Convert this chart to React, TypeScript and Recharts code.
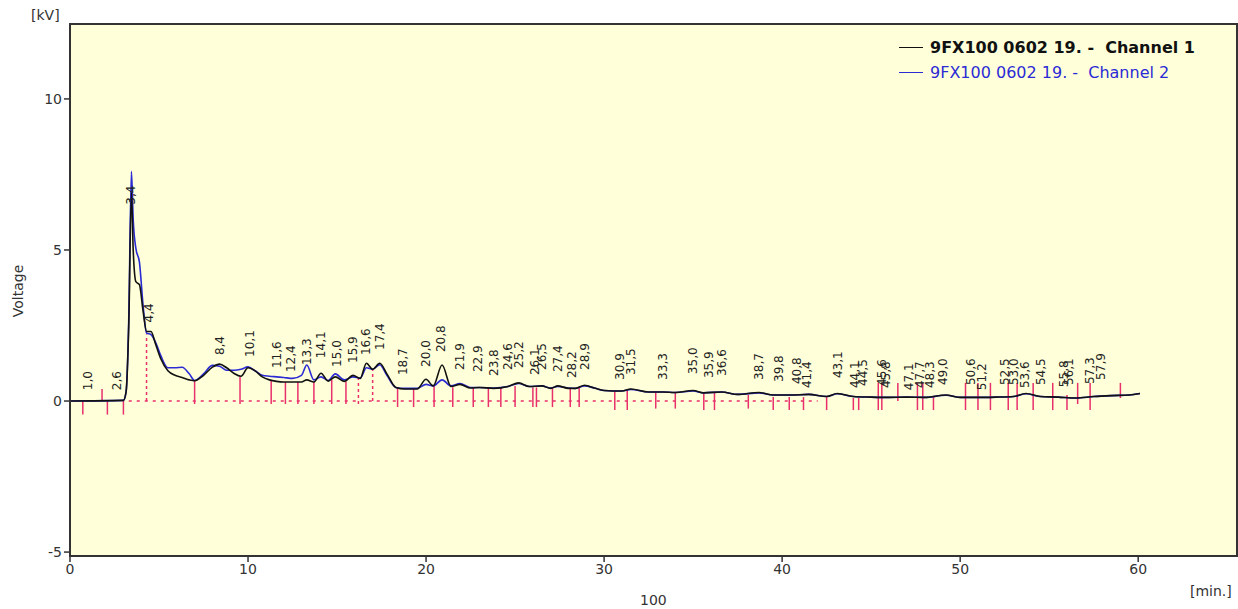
import React from 'react';
import {
  ComposedChart,
  Line,
  Scatter,
  XAxis,
  YAxis,
  CartesianGrid,
  ReferenceLine,
  ReferenceArea,
} from 'recharts';

// retention time [min.]
const times = [
  0, 3.0, 3.15, 3.3, 3.45, 3.55, 3.7, 3.9, 4.1, 4.3, 4.55, 4.8, 5.1, 5.5, 5.9, 6.3, 6.7, 7.0, 7.5, 8.0,
  8.4, 8.8, 9.2, 9.6, 10.0, 10.4, 10.8, 11.2, 11.6, 12.0, 12.5, 13.0, 13.3, 13.7, 14.1, 14.5, 14.9, 15.4,
  15.9, 16.3, 16.65, 17.0, 17.4, 17.8, 18.3, 18.8, 19.5, 20.0, 20.4, 20.9, 21.4, 21.9, 22.5, 23.0, 23.8,
  24.6, 25.2, 25.8, 26.5, 27.0, 27.4, 28.0, 28.4, 28.9, 29.5, 30.0, 31.0, 31.5, 32.5, 33.3, 34.0, 35.0,
  35.6, 36.6, 37.5, 38.7, 39.5, 40.5, 41.5, 42.5, 43.1, 44.0, 45.0, 46.0, 47.0, 48.0, 49.2, 50.0, 51.0,
  52.0, 53.0, 53.7, 54.5, 55.5, 56.5, 57.5, 58.5, 59.5, 60.1,
];

// Channel 1 [kV]
const channel1 = [
  0, 0.02, 0.3, 2.5, 6.9, 5.0, 3.95, 3.85, 3.0, 2.3, 2.3, 1.9, 1.4, 1.0, 0.85, 0.78, 0.7, 0.67, 0.85, 1.12,
  1.22, 1.1, 0.92, 0.82, 1.1, 1.0, 0.8, 0.7, 0.65, 0.63, 0.63, 0.63, 0.7, 0.63, 0.92, 0.66, 0.8, 0.65,
  0.85, 0.75, 1.25, 1.05, 1.25, 0.9, 0.45, 0.4, 0.4, 0.72, 0.5, 1.19, 0.48, 0.55, 0.43, 0.45, 0.42,
  0.48, 0.6, 0.48, 0.5, 0.42, 0.5, 0.42, 0.42, 0.52, 0.42, 0.35, 0.33, 0.4, 0.3, 0.3, 0.28, 0.35,
  0.27, 0.3, 0.22, 0.28, 0.2, 0.2, 0.22, 0.15, 0.25, 0.15, 0.13, 0.12, 0.13, 0.12, 0.2, 0.12, 0.12,
  0.13, 0.15, 0.25, 0.15, 0.13, 0.1, 0.15, 0.18, 0.2, 0.25,
];

// Channel 2 [kV]
const channel2 = [
  0, 0.02, 0.3, 2.7, 7.6, 6.0, 5.05, 4.6, 3.2, 2.25, 2.2, 1.95, 1.5, 1.1, 1.1, 1.12, 0.9, 0.68, 0.9, 1.18,
  1.15, 1.02, 1.02, 1.05, 1.13, 1.0, 0.85, 0.82, 0.8, 0.78, 0.75, 0.85, 1.19, 0.7, 0.8, 0.68, 0.9, 0.7,
  0.8, 0.75, 1.1, 1.05, 1.2, 0.85, 0.45, 0.42, 0.42, 0.55, 0.5, 0.7, 0.5, 0.58, 0.45, 0.45, 0.43,
  0.48, 0.58, 0.48, 0.5, 0.43, 0.48, 0.43, 0.42, 0.5, 0.42, 0.35, 0.33, 0.38, 0.3, 0.3, 0.28, 0.33,
  0.27, 0.3, 0.22, 0.27, 0.2, 0.2, 0.22, 0.15, 0.24, 0.15, 0.13, 0.12, 0.13, 0.12, 0.19, 0.12, 0.12,
  0.13, 0.15, 0.24, 0.15, 0.13, 0.1, 0.15, 0.18, 0.2, 0.25,
];

// peak labels (retention time) and the height their text starts at
const peakTimes = [
  1.0, 2.6, 3.4, 4.4, 8.4, 10.1, 11.6, 12.4, 13.3, 14.1, 15.0, 15.9, 16.6, 17.4, 18.7, 20.0, 20.8, 21.9,
  22.9, 23.8, 24.6, 25.2, 26.1, 26.5, 27.4, 28.2, 28.9, 30.9, 31.5, 33.3, 35.0, 35.9, 36.6, 38.7, 39.8,
  40.8, 41.4, 43.1, 44.1, 44.5, 45.6, 45.8, 47.1, 47.7, 48.3, 49.0, 50.6, 51.2, 52.5, 53.0, 53.6, 54.5,
  55.8, 56.1, 57.3, 57.9,
];
const peakLabelHeights = [
  0.36, 0.36, 6.5, 2.6, 1.52, 1.46, 1.09, 0.96, 1.19, 1.42, 1.13, 1.26, 1.52, 1.69, 0.86, 1.13, 1.62,
  1.03, 0.96, 0.83, 1.03, 1.09, 0.86, 1.03, 0.96, 0.76, 1.03, 0.7, 0.86, 0.7, 0.89, 0.76, 0.83, 0.7,
  0.63, 0.56, 0.43, 0.76, 0.43, 0.5, 0.5, 0.43, 0.36, 0.43, 0.43, 0.53, 0.53, 0.36, 0.53, 0.53, 0.43,
  0.53, 0.46, 0.53, 0.56, 0.7,
];

// integration event markers: time, top, bottom [kV], dashed flag
const markerTimes = [
  0.72, 1.8, 2.1, 3.0, 4.3, 7.0, 9.55, 11.3, 12.1, 12.8, 13.7, 14.7, 15.5, 16.2, 17.0, 18.4, 19.3, 20.45,
  21.5, 22.65, 23.5, 24.2, 25.0, 26.0, 26.2, 27.1, 28.1, 28.6, 30.6, 31.3, 32.9, 34.0, 35.6, 36.2, 38.1,
  39.5, 40.4, 41.2, 42.5, 44.0, 44.3, 45.4, 45.6, 46.5, 47.6, 47.9, 48.5, 50.3, 51.0, 51.7, 52.7, 53.2,
  54.1, 55.2, 56.0, 56.6, 57.3, 59.0,
];
const markerTops = [
  0, 0.4, 0, 0, 2.2, 0.67, 0.82, 0.7, 0.63, 0.63, 0.63, 0.7, 0.65, 0.75, 1.05, 0.42, 0.4, 0.5, 0.46,
  0.43, 0.43, 0.45, 0.5, 0.45, 0.45, 0.42, 0.42, 0.45, 0.33, 0.35, 0.3, 0.28, 0.27, 0.28, 0.2, 0.13,
  0.13, 0.13, 0.13, 0.1, 0.1, 0.6, 0.6, 0.6, 0.6, 0.6, 0.15, 0.6, 0.6, 0.6, 0.6, 0.6, 0.6, 0.6, 0.2,
  0.6, 0.6, 0.6,
];
const markerBottoms = [
  -0.45, 0, -0.45, -0.45, 0, -0.1, -0.1, -0.1, -0.1, -0.1, -0.1, -0.1, -0.1, -0.1, 0, -0.2, -0.2, -0.2,
  -0.2, -0.2, -0.2, -0.2, -0.2, -0.2, -0.2, -0.2, -0.2, -0.2, -0.3, -0.3, -0.25, -0.25, -0.3, -0.3,
  -0.25, -0.3, -0.3, -0.3, -0.3, -0.3, -0.3, -0.3, -0.3, 0, -0.3, -0.3, -0.3, -0.3, -0.3, -0.3, -0.3,
  -0.3, -0.3, -0.3, -0.3, -0.1, -0.3, 0.1,
];
const dashedMarkers = [4.3, 16.2, 17.0];

const xTicks = [0, 10, 20, 30, 40, 50, 60];
const yTicks = [-5, 0, 5, 10];
const xDomain = [0, 65.55];
const yDomain = [-5.13, 12.48];
const baselineStart = 3.3;
const baselineEnd = 42;

const legendItems = [
  { name: '9FX100 0602 19. -  Channel 1', color: '#111111', bold: true },
  { name: '9FX100 0602 19. -  Channel 2', color: '#2b2bd6', bold: false },
];

const data = times.map((t, i) => ({ t, ch1: channel1[i], ch2: channel2[i] }));
const peakData = peakTimes.map((t, i) => ({
  t,
  h: peakLabelHeights[i],
  label: t.toFixed(1).replace('.', ','),
}));

const FONT = '"DejaVu Sans", Verdana, sans-serif';
const PINK = '#e8306c';

function PeakLabel(props: any) {
  const { cx, cy, payload } = props;
  if (cx == null || cy == null) return null;
  return (
    <text
      x={cx}
      y={cy}
      transform={`rotate(-90 ${cx} ${cy})`}
      dy="0.36em"
      textAnchor="start"
      fontSize={12}
      fontFamily={FONT}
      fill="#222"
    >
      {payload.label}
    </text>
  );
}

export default function App() {
  return (
    <div style={{ position: 'relative', width: 1238, height: 609, background: '#fff', fontFamily: FONT }}>
      <style>{'body{margin:0;}'}</style>
      <ComposedChart
        width={1238}
        height={609}
        data={data}
        margin={{ top: 24, right: 1, bottom: 23, left: 10 }}
      >
        <CartesianGrid horizontal={false} vertical={false} fill="#ffffd9" />
        <XAxis
          dataKey="t"
          type="number"
          domain={xDomain}
          ticks={xTicks}
          allowDataOverflow
          height={30}
          tickSize={6}
          axisLine={{ stroke: '#333', strokeWidth: 2 }}
          tickLine={{ stroke: '#333', strokeWidth: 1.5 }}
          tick={{ fill: '#333', fontSize: 14, fontFamily: FONT }}
        />
        <YAxis
          type="number"
          domain={yDomain}
          ticks={yTicks}
          allowDataOverflow
          width={60}
          tickSize={6}
          axisLine={{ stroke: '#333', strokeWidth: 2 }}
          tickLine={{ stroke: '#333', strokeWidth: 1.5 }}
          tick={{ fill: '#333', fontSize: 14, fontFamily: FONT }}
        />
        <ReferenceArea
          x1={xDomain[0]}
          x2={xDomain[1]}
          y1={yDomain[0]}
          y2={yDomain[1]}
          fill="none"
          stroke="#333"
          strokeWidth={2}
        />
        <ReferenceLine
          segment={[
            { x: baselineStart, y: 0 },
            { x: baselineEnd, y: 0 },
          ]}
          stroke={PINK}
          strokeWidth={1.5}
          strokeDasharray="3 5"
        />
        {markerTimes.map((t, i) => (
          <ReferenceLine
            key={`m-${i}`}
            segment={[
              { x: t, y: markerBottoms[i] },
              { x: t, y: markerTops[i] },
            ]}
            stroke={PINK}
            strokeWidth={1.5}
            strokeDasharray={dashedMarkers.includes(t) ? '3 3' : undefined}
          />
        ))}
        <Line
          dataKey="ch2"
          type="monotone"
          stroke="#2b2bd6"
          strokeWidth={1.6}
          dot={false}
          isAnimationActive={false}
        />
        <Line
          dataKey="ch1"
          type="monotone"
          stroke="#111111"
          strokeWidth={1.6}
          dot={false}
          isAnimationActive={false}
        />
        <Scatter
          data={peakData}
          dataKey="h"
          shape={<PeakLabel />}
          isAnimationActive={false}
        />
      </ComposedChart>

      {/* axis captions */}
      <div style={{ position: 'absolute', left: 31, top: 7, fontSize: 14, color: '#333' }}>[kV]</div>
      <div
        style={{
          position: 'absolute',
          left: 18,
          top: 291,
          fontSize: 14,
          color: '#333',
          transform: 'translate(-50%, -50%) rotate(-90deg)',
          whiteSpace: 'nowrap',
        }}
      >
        Voltage
      </div>
      <div style={{ position: 'absolute', left: 1190, top: 583, fontSize: 14, color: '#333' }}>[min.]</div>
      <div style={{ position: 'absolute', left: 640, top: 592, fontSize: 14, color: '#333' }}>100</div>

      {/* legend */}
      <div style={{ position: 'absolute', left: 899, top: 35 }}>
        {legendItems.map((item) => (
          <div key={item.name} style={{ display: 'flex', alignItems: 'center', height: 25 }}>
            <span style={{ display: 'inline-block', width: 24, height: 1.5, background: item.color, marginRight: 7 }} />
            <span
              style={{
                fontSize: 16,
                color: item.color,
                fontWeight: item.bold ? 'bold' : 'normal',
                whiteSpace: 'pre',
                fontFamily: FONT,
              }}
            >
              {item.name}
            </span>
          </div>
        ))}
      </div>
    </div>
  );
}
